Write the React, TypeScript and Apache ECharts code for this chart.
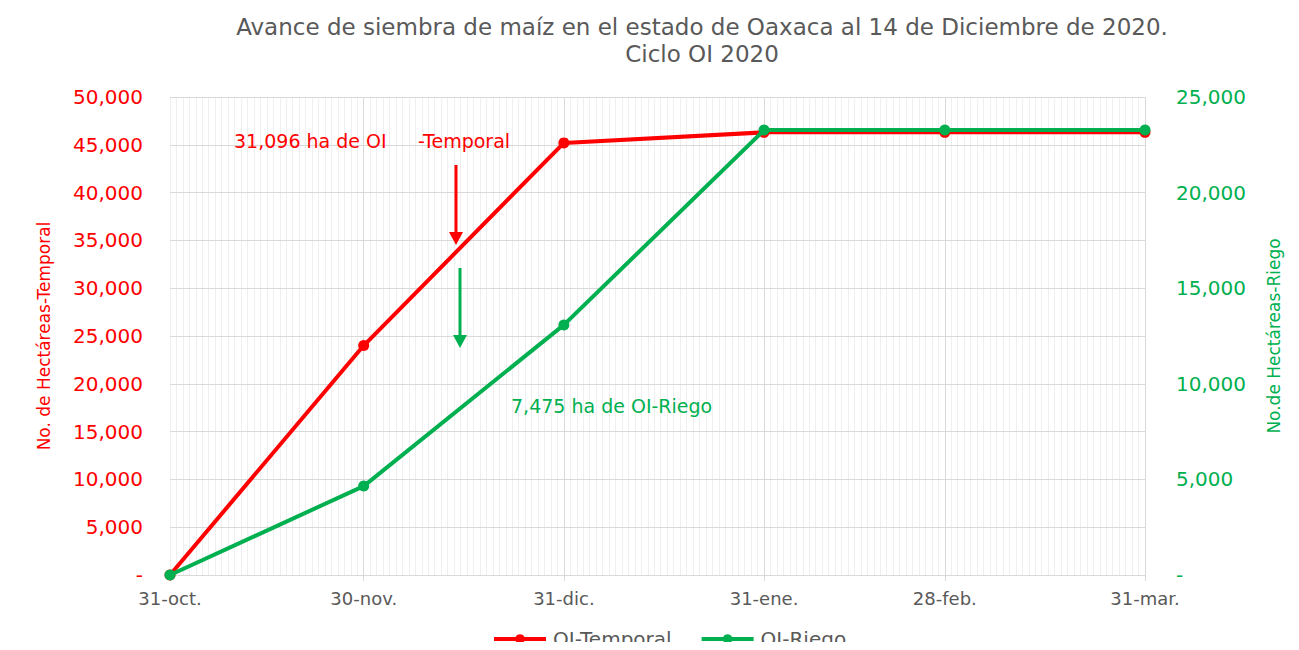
import React, { useEffect, useRef } from "react";
import * as echarts from "echarts";

const dateLabels = ["31-oct.", "30-nov.", "31-dic.", "31-ene.", "28-feb.", "31-mar."];
const dayOffsets = [0, 30, 61, 92, 120, 151];
const temporal = [0, 24000, 45200, 46300, 46300, 46300];
const riego = [0, 4650, 13080, 23270, 23270, 23270];

const RED = "#FF0000";
const GREEN = "#00B050";
const GRAY = "#595959";
const FONT = "DejaVu Sans";

const fmt = (v: number) => (v === 0 ? "-" : v.toLocaleString("en-US"));

export default function App() {
  const ref = useRef<HTMLDivElement>(null);
  useEffect(() => {
    if (!ref.current) return;
    const chart = echarts.init(ref.current, null, { renderer: "svg" });
    const labelMap: Record<number, string> = {};
    dayOffsets.forEach((d, i) => (labelMap[d] = dateLabels[i]));
    const maxDay = dayOffsets[dayOffsets.length - 1];
    chart.setOption({
      animation: false,
      backgroundColor: "#fff",
      textStyle: { fontFamily: FONT },
      title: {
        text: "Avance de siembra de maíz en el estado de Oaxaca al 14 de Diciembre de 2020.\nCiclo OI 2020",
        left: 697,
        textAlign: "center",
        top: 8,
        textStyle: { color: GRAY, fontSize: 23, fontWeight: "normal", lineHeight: 27, fontFamily: FONT },
      },
      grid: { left: 170, right: 154, top: 97, bottom: 75 },
      legend: {
        bottom: -4,
        left: 487,
        itemWidth: 52,
        itemHeight: 12,
        itemGap: 28,
        lineStyle: { width: 4 },
        textStyle: { color: GRAY, fontSize: 20, fontFamily: FONT, padding: [0, 0, 0, 2] },
        data: ["OI-Temporal", "OI-Riego"],
      },
      xAxis: [
        {
          type: "value",
          min: 0,
          max: maxDay,
          interval: 1,
          axisLine: { show: true, lineStyle: { color: "#d9d9d9", width: 1 } },
          axisTick: { show: true, customValues: dayOffsets, length: 6, lineStyle: { color: "#d9d9d9" } },
          axisLabel: {
            customValues: dayOffsets,
            formatter: (v: number) => labelMap[v] ?? "",
            color: GRAY,
            fontSize: 18,
            margin: 14,
            fontFamily: FONT,
          },
          splitLine: { show: false },
          z: 2,
        },
        {
          type: "value",
          min: 0,
          max: maxDay,
          interval: 1,
          position: "bottom",
          axisLine: { show: false },
          axisTick: { show: false },
          axisLabel: { show: false },
          splitLine: { show: true, lineStyle: { color: "#efefef", width: 1 } },
          z: 0,
        },
      ],
      yAxis: [
        {
          type: "value",
          min: 0,
          max: 50000,
          interval: 5000,
          position: "left",
          name: "No. de Hectáreas-Temporal",
          nameLocation: "middle",
          nameGap: 118,
          nameTextStyle: { color: RED, fontSize: 17, fontFamily: FONT },
          axisLine: { show: false },
          axisTick: { show: false },
          axisLabel: { color: RED, fontSize: 20, margin: 27, formatter: fmt, fontFamily: FONT },
          splitLine: { show: true, lineStyle: { color: "#d9d9d9", width: 1 } },
          z: 1,
        },
        {
          type: "value",
          min: 0,
          max: 25000,
          interval: 5000,
          position: "right",
          name: "No.de Hectáreas-Riego",
          nameLocation: "middle",
          nameGap: 120,
          nameTextStyle: { color: GREEN, fontSize: 17, fontFamily: FONT },
          axisLine: { show: false },
          axisTick: { show: false },
          axisLabel: { color: GREEN, fontSize: 20, margin: 31, formatter: fmt, fontFamily: FONT },
          splitLine: { show: false },
        },
      ],
      series: [
        {
          name: "OI-Temporal",
          type: "line",
          xAxisIndex: 0,
          yAxisIndex: 0,
          data: dayOffsets.map((d, i) => [d, temporal[i]]),
          color: RED,
          lineStyle: { width: 4, color: RED },
          symbol: "circle",
          symbolSize: 11,
          itemStyle: { color: RED },
          markLine: {
            silent: true,
            symbol: ["none", "none"],
            label: { show: false },
            lineStyle: { color: "#d9d9d9", type: "solid", width: 1 },
            data: dayOffsets.slice(1).map((d) => ({ xAxis: d })),
            z: 1,
          },
          z: 3,
        },
        {
          name: "OI-Riego",
          type: "line",
          xAxisIndex: 0,
          yAxisIndex: 1,
          data: dayOffsets.map((d, i) => [d, riego[i]]),
          color: GREEN,
          lineStyle: { width: 4, color: GREEN },
          symbol: "circle",
          symbolSize: 11,
          itemStyle: { color: GREEN },
          z: 4,
        },
      ],
      graphic: [
        { type: "text", z: 100, left: 234, top: 131, style: { text: "31,096 ha de OI", fill: RED, fontSize: 19, fontFamily: FONT } },
        { type: "text", z: 100, left: 418, top: 131, style: { text: "-Temporal", fill: RED, fontSize: 19, fontFamily: FONT } },
        { type: "line", z: 100, shape: { x1: 456, y1: 165, x2: 456, y2: 233 }, style: { stroke: RED, lineWidth: 3 } },
        { type: "polygon", z: 100, shape: { points: [[449, 232], [463, 232], [456, 245]] }, style: { fill: RED } },
        { type: "line", z: 100, shape: { x1: 460, y1: 268, x2: 460, y2: 336 }, style: { stroke: GREEN, lineWidth: 3 } },
        { type: "polygon", z: 100, shape: { points: [[453, 335], [467, 335], [460, 348]] }, style: { fill: GREEN } },
        { type: "text", z: 100, left: 511, top: 396, style: { text: "7,475 ha de OI-Riego", fill: GREEN, fontSize: 19, fontFamily: FONT } },
        { type: "rect", z: 100, shape: { x: 7, y: 1, width: 1289, height: 660 }, style: { fill: "none", stroke: "#d9d9d9", lineWidth: 1 }, silent: true },
      ],
    });
    return () => chart.dispose();
  }, []);
  return <div ref={ref} style={{ width: 1299, height: 650, margin: -8 }} />;
}
